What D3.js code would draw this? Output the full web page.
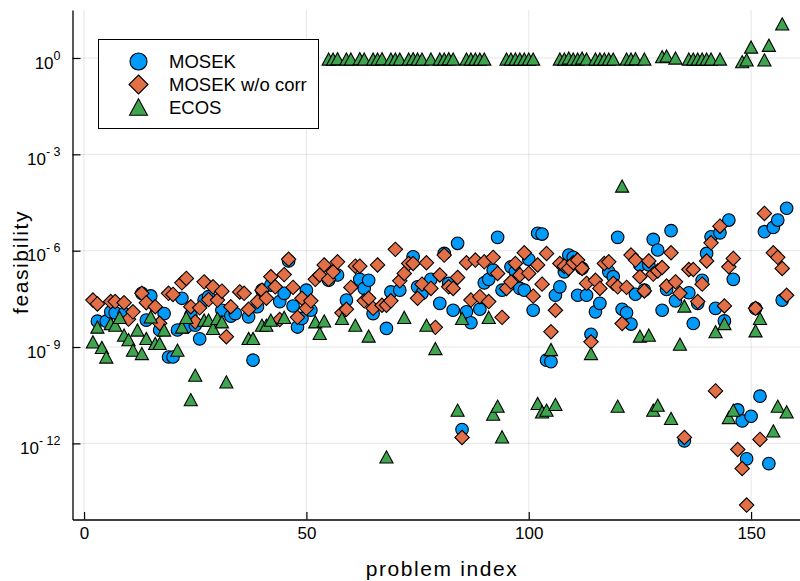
<!DOCTYPE html>
<html>
<head>
<meta charset="utf-8">
<script src="https://cdn.jsdelivr.net/npm/d3@7"></script>
<style>
  body { margin: 0; background: #fff; }
  text { font-family: "Liberation Sans", Arial, sans-serif; fill: #000; }
</style>
</head>
<body>
<div id="chart"></div>
<script>
// [problem index, feasibility]
const mosek = [
  [3,6.4e-9],[5,6.4e-9],[6,1.25e-8],[7,1.16e-8],[9,1.1e-8],[13,4.7e-8],[14,6.9e-9],[15,3.9e-8],
  [17,3.4e-9],[18,1.1e-8],[19,4.9e-10],[20,4.9e-10],[21,3.4e-9],[22,3.3e-8],[23,4.2e-9],[24,9.9e-9],
  [25,4.8e-9],[26,1.8e-9],[27,2.9e-8],[28,3.7e-8],[31,1.4e-8],[33,9.2e-9],[34,1.1e-8],[37,8.7e-9],
  [38,3.9e-10],[39,1.8e-8],[40,5.9e-8],[42,8.5e-8],[44,2.6e-8],[45,4.7e-8],[46,4.8e-7],[47,1.9e-8],
  [48,4.2e-9],[49,7.8e-9],[50,5.9e-8],[51,1.4e-8],[55,1.2e-7],[57,1.75e-7],[59,2.9e-8],[62,1.28e-7],
  [63,6.7e-8],[64,1.2e-7],[65,1.1e-8],[68,3.8e-9],[69,5.2e-8],[71,5.9e-8],[74,6.45e-7],[75,7.5e-8],
  [76,4.7e-8],[78,1.28e-7],[80,2.3e-8],[81,8.2e-7],[82,9.6e-8],[83,1.4e-8],[84,1.7e-6],[85,2.7e-12],
  [86,1.25e-8],[87,5.7e-9],[89,1.5e-8],[90,1.0e-7],[91,1.28e-7],[92,2.5e-7],[93,2.6e-6],[94,5.9e-8],
  [96,3.15e-7],[97,2.2e-7],[98,6.7e-8],[99,5.9e-8],[100,5.4e-7],[101,1.4e-8],[102,3.5e-6],[103,3.3e-6],
  [104,3.9e-10],[105,3.5e-10],[106,4.1e-8],[107,7.5e-8],[108,2.2e-7],[109,7.3e-7],[110,6.2e-7],[111,4.1e-8],
  [112,2.8e-7],[113,4.1e-8],[114,2.5e-9],[115,1.25e-8],[116,2.3e-8],[118,2.2e-7],[119,1.55e-7],[120,2.6e-6],
  [121,1.5e-8],[122,1.16e-8],[123,5.2e-9],[124,4.4e-8],[125,3.6e-7],[126,5.9e-8],[127,3.6e-7],[128,2.25e-6],
  [129,1.05e-6],[130,1.4e-8],[131,6.2e-8],[132,4.2e-6],[133,2.75e-8],[135,1.2e-12],[136,4.9e-8],[137,5.4e-9],
  [138,2.3e-8],[139,1.2e-7],[140,8.2e-7],[141,2.7e-6],[142,1.6e-8],[143,3.6e-6],[144,6.5e-9],[145,9e-6],
  [146,1.28e-7],[147,1.1e-11],[148,5e-12],[149,3.3e-13],[150,7e-12],[151,1.6e-8],[152,2.95e-11],[153,3.9e-6],
  [154,2.35e-13],[155,5.3e-6],[156,9e-6],[157,2.9e-8],[158,2.1e-5]
];

const mosekNoCorr = [
  [2,2.9e-8],[3,2.2e-8],[6,2.6e-8],[7,2.6e-8],[9,2.4e-8],[10,7.4e-9],[11,1.25e-8],[13,4.7e-8],
  [14,2.4e-8],[16,1.8e-8],[17,5.5e-9],[19,4.7e-8],[20,4.35e-8],[22,1e-7],[23,1.37e-7],[24,1.8e-8],
  [25,6.1e-9],[26,1.66e-8],[27,1.07e-7],[28,3.0e-8],[29,7.5e-8],[30,2.9e-8],[31,5.5e-8],[32,2.1e-9],
  [33,1.8e-8],[35,5.2e-8],[36,4.7e-8],[37,1.5e-8],[39,2.6e-8],[40,5.9e-8],[41,3.3e-8],[42,1.55e-7],
  [43,7.5e-8],[44,7.2e-9],[45,1.8e-7],[46,5.4e-7],[47,7.2e-8],[48,8.4e-9],[49,3.3e-8],[50,1.6e-8],
  [51,2.75e-8],[52,1.28e-7],[53,1.75e-7],[54,3.6e-7],[55,1.28e-7],[56,2.2e-7],[57,4.5e-7],[58,1.16e-8],
  [59,1.5e-8],[60,7.2e-8],[61,3.3e-7],[62,3.3e-7],[63,2.75e-8],[64,3.3e-8],[65,1.6e-8],[66,3.6e-7],
  [67,2.0e-8],[68,2.0e-8],[69,2.75e-8],[70,1.1e-6],[71,1.15e-7],[72,1.96e-7],[73,4.0e-7],[74,4.0e-7],
  [75,3.3e-8],[76,9.1e-8],[77,4.2e-7],[78,6.7e-8],[79,4.1e-9],[80,1.75e-7],[81,7.3e-7],[82,7.5e-8],
  [83,6.7e-8],[84,1.47e-7],[85,1.53e-12],[86,4.2e-7],[87,2.9e-8],[88,5.1e-7],[89,3.7e-8],[90,4.5e-7],
  [91,2.6e-8],[92,6.2e-7],[93,1.96e-7],[94,8.4e-9],[95,6.7e-8],[96,1.07e-7],[97,4.0e-7],[98,1.75e-7],
  [99,8.6e-7],[100,1.96e-7],[101,3.85e-8],[102,3.6e-7],[103,9.1e-8],[104,8.2e-7],[105,3e-9],[106,1.4e-8],
  [107,4.0e-7],[108,3.3e-7],[109,2.8e-7],[110,4.2e-7],[111,5.1e-7],[112,2.8e-7],[113,9.6e-8],[114,1.45e-9],
  [115,1.2e-7],[116,6.7e-8],[117,4.0e-7],[118,4.5e-7],[119,9.6e-8],[120,7.5e-8],[121,5.4e-9],[122,7.2e-8],
  [123,7.3e-7],[124,5.1e-7],[125,1.55e-7],[126,5.6e-8],[127,4.8e-7],[128,1.87e-7],[129,2.35e-7],[130,3e-7],
  [131,7.9e-8],[132,8.6e-7],[133,1.07e-7],[134,4.7e-8],[135,1.53e-12],[136,2.6e-7],[137,2.6e-7],[138,2.6e-8],
  [139,9.1e-8],[140,4.8e-7],[141,1.76e-6],[142,4.3e-11],[143,5.8e-6],[144,1.9e-8],[145,3.15e-7],[146,5.75e-7],
  [147,6.45e-13],[148,1.65e-13],[149,1.2e-14],[151,1.6e-8],[152,1.33e-12],[153,1.45e-5],[155,8.6e-7],[156,6.2e-7],
  [157,2.8e-7],[158,4.1e-8]
];

const ecos = [
  [2,1.45e-9],[3,4.2e-9],[4,9.7e-10],[5,4.9e-10],[6,5.4e-9],[7,4.8e-9],[8,8.4e-9],[9,2.35e-9],
  [10,1.7e-9],[11,8e-10],[12,3.4e-9],[13,6.3e-10],[14,1.85e-9],[15,8.7e-9],[16,1.3e-9],[17,1.3e-9],
  [18,3.4e-9],[21,8e-10],[22,4.2e-9],[23,8.4e-9],[24,2.3e-11],[25,1.33e-10],[27,6.9e-9],[28,6.9e-9],
  [29,3.8e-9],[30,7.8e-9],[31,6.1e-9],[32,8.2e-11],[37,1.85e-9],[38,1.85e-9],[40,4.8e-9],[41,4.8e-9],
  [42,6.9e-9],[45,8.4e-9],[52,6.1e-9],[53,2.65e-9],[54,6.5e-9],[55,0.93],[56,0.93],[57,0.95],
  [58,7.8e-9],[59,0.93],[60,0.93],[61,4.8e-9],[62,0.95],[63,0.93],[64,2.2e-9],[65,0.93],
  [66,0.93],[67,0.95],[68,3.8e-13],[69,0.93],[70,0.93],[71,0.93],[72,8.4e-9],[73,0.93],
  [74,0.95],[75,0.93],[76,0.93],[77,4.8e-9],[78,0.93],[79,9e-10],[80,0.93],[81,0.93],
  [82,0.95],[83,0.93],[84,1.08e-11],[85,7.8e-9],[86,0.93],[87,0.93],[88,0.93],[89,0.93],
  [90,0.93],[91,8.4e-9],[92,8.1e-12],[93,1.44e-11],[94,1.6e-12],[95,0.93],[96,0.93],[97,0.93],
  [98,0.93],[99,0.93],[100,0.93],[101,0.93],[102,1.75e-11],[103,9.6e-12],[104,1.08e-11],[105,8.4e-10],
  [106,1.63e-11],[107,0.93],[108,0.93],[109,1.0],[110,0.93],[111,0.93],[112,1.0],[113,0.93],
  [114,6.3e-10],[115,0.93],[116,0.93],[117,0.93],[118,0.93],[119,0.93],[120,1.44e-11],[121,1.03e-4],
  [122,0.93],[123,0.93],[124,0.95],[125,2.2e-9],[126,0.93],[127,2.35e-9],[128,1.08e-11],[129,1.55e-11],
  [130,1.1],[131,1.15],[132,6e-12],[133,1.0],[134,1.23e-9],[135,1.9e-8],[136,0.93],[137,0.93],
  [138,0.93],[139,0.93],[140,0.93],[141,0.93],[142,3e-9],[143,0.93],[144,5.4e-9],[145,6.4e-12],
  [146,1.08e-11],[148,0.77],[149,0.87],[150,2.2],[151,3.2e-9],[152,7.8e-9],[153,0.87],[154,2.5],
  [155,2.45e-12],[156,1.44e-11],[157,11.5],[158,9.6e-12]
];

const seriesNames = ["MOSEK", "MOSEK w/o corr", "ECOS"];
const seriesColors = ["#009AFA", "#E36F47", "#3EA44E"];
const xTicks = [0, 50, 100, 150];
const yTicks = [1, 1e-3, 1e-6, 1e-9, 1e-12];

let width = 800,
    height = 581,
    margin = { left: 72.5, right: 800, top: 10, bottom: 519.5 };

let svg = d3.select("#chart")
  .append("svg")
    .attr("width", width)
    .attr("height", height)
    .attr("viewBox", [0, 0, width, height].join(" "));

let x = d3.scaleLinear().domain([-2.6, 161]).range([margin.left, margin.right]);
let y = d3.scaleLog().domain([Math.pow(10, -14.37), Math.pow(10, 1.495)]).range([margin.bottom, margin.top]);

// grid lines
svg.append("g")
  .selectAll("line")
  .data(xTicks)
  .join("line")
    .attr("x1", d => x(d)).attr("x2", d => x(d))
    .attr("y1", margin.top).attr("y2", margin.bottom)
    .attr("stroke", "rgba(0,0,0,0.1)");

svg.append("g")
  .selectAll("line")
  .data(yTicks)
  .join("line")
    .attr("x1", margin.left).attr("x2", margin.right)
    .attr("y1", d => y(d)).attr("y2", d => y(d))
    .attr("stroke", "rgba(0,0,0,0.1)");

// axes, ticks point inward
let xAxis = svg.append("g")
  .attr("transform", "translate(0," + margin.bottom + ")")
  .call(d3.axisBottom(x).tickValues(xTicks).tickSize(-7.5).tickSizeOuter(0).tickPadding(7.7));

let yAxis = svg.append("g")
  .attr("transform", "translate(" + margin.left + ",0)")
  .call(d3.axisLeft(y).tickValues(yTicks).tickSize(-8).tickSizeOuter(0).tickPadding(12).tickFormat(""));

[xAxis, yAxis].forEach(g => {
  g.attr("font-family", null);
  g.select(".domain").attr("stroke", "#000").attr("stroke-width", 1.3);
  g.selectAll(".tick line").attr("stroke", "#000").attr("stroke-width", 1.2);
  g.selectAll("text").attr("font-size", 17).attr("fill", "#000");
});

// y tick labels as 10 with a superscript exponent
yAxis.selectAll(".tick text")
  .attr("dy", null)
  .attr("y", 10)
  .each(function (d) {
    let e = Math.round(Math.log10(d));
    let t = d3.select(this).text(null);
    t.append("tspan").text("10");
    t.append("tspan")
      .attr("dy", -9)
      .attr("font-size", 12.5)
      .text(e < 0 ? "- " + (-e) : String(e));
  });

// marker shapes
function markerPath(kind, s) {
  if (kind === 0) {
    return d3.symbol().type(d3.symbolCircle).size(Math.PI * s * s)();
  }
  if (kind === 1) {
    return "M0," + (-s) + "L" + s + ",0L0," + s + "L" + (-s) + ",0Z";
  }
  let w = s * 1.08, h = s;
  return "M0," + (-h) + "L" + w + "," + h + "L" + (-w) + "," + h + "Z";
}

let allSeries = [mosek, mosekNoCorr, ecos];
let sizes = [6.3, 7.2, 6.1];

allSeries.forEach((data, i) => {
  svg.append("g")
    .selectAll("path")
    .data(data)
    .join("path")
      .attr("d", markerPath(i, sizes[i]))
      .attr("transform", d => "translate(" + x(d[0]) + "," + y(d[1]) + ")")
      .attr("fill", seriesColors[i])
      .attr("stroke", "#000")
      .attr("stroke-width", 1.1);
});

// legend
let legend = svg.append("g");
legend.append("rect")
  .attr("x", 98.5).attr("y", 39.5)
  .attr("width", 220).attr("height", 89)
  .attr("fill", "#fff")
  .attr("stroke", "#000")
  .attr("stroke-width", 1);

let rowY = [61.5, 84.5, 107];
let legendSizes = [8.5, 9.5, 8.3];
seriesNames.forEach((name, i) => {
  legend.append("path")
    .attr("d", markerPath(i, legendSizes[i]))
    .attr("transform", "translate(138.5," + rowY[i] + ")")
    .attr("fill", seriesColors[i])
    .attr("stroke", "#000")
    .attr("stroke-width", 1.1);
  legend.append("text")
    .attr("x", 169)
    .attr("y", rowY[i])
    .attr("dy", "0.36em")
    .attr("font-size", 18.5)
    .text(name);
});

// axis titles
svg.append("text")
  .attr("x", 442)
  .attr("y", 576)
  .attr("text-anchor", "middle")
  .attr("font-size", 21)
  .attr("letter-spacing", "1.6px")
  .text("problem index");

svg.append("text")
  .attr("transform", "translate(28,262) rotate(-90)")
  .attr("text-anchor", "middle")
  .attr("font-size", 21)
  .attr("letter-spacing", "1.6px")
  .text("feasibility");
</script>
</body>
</html>
